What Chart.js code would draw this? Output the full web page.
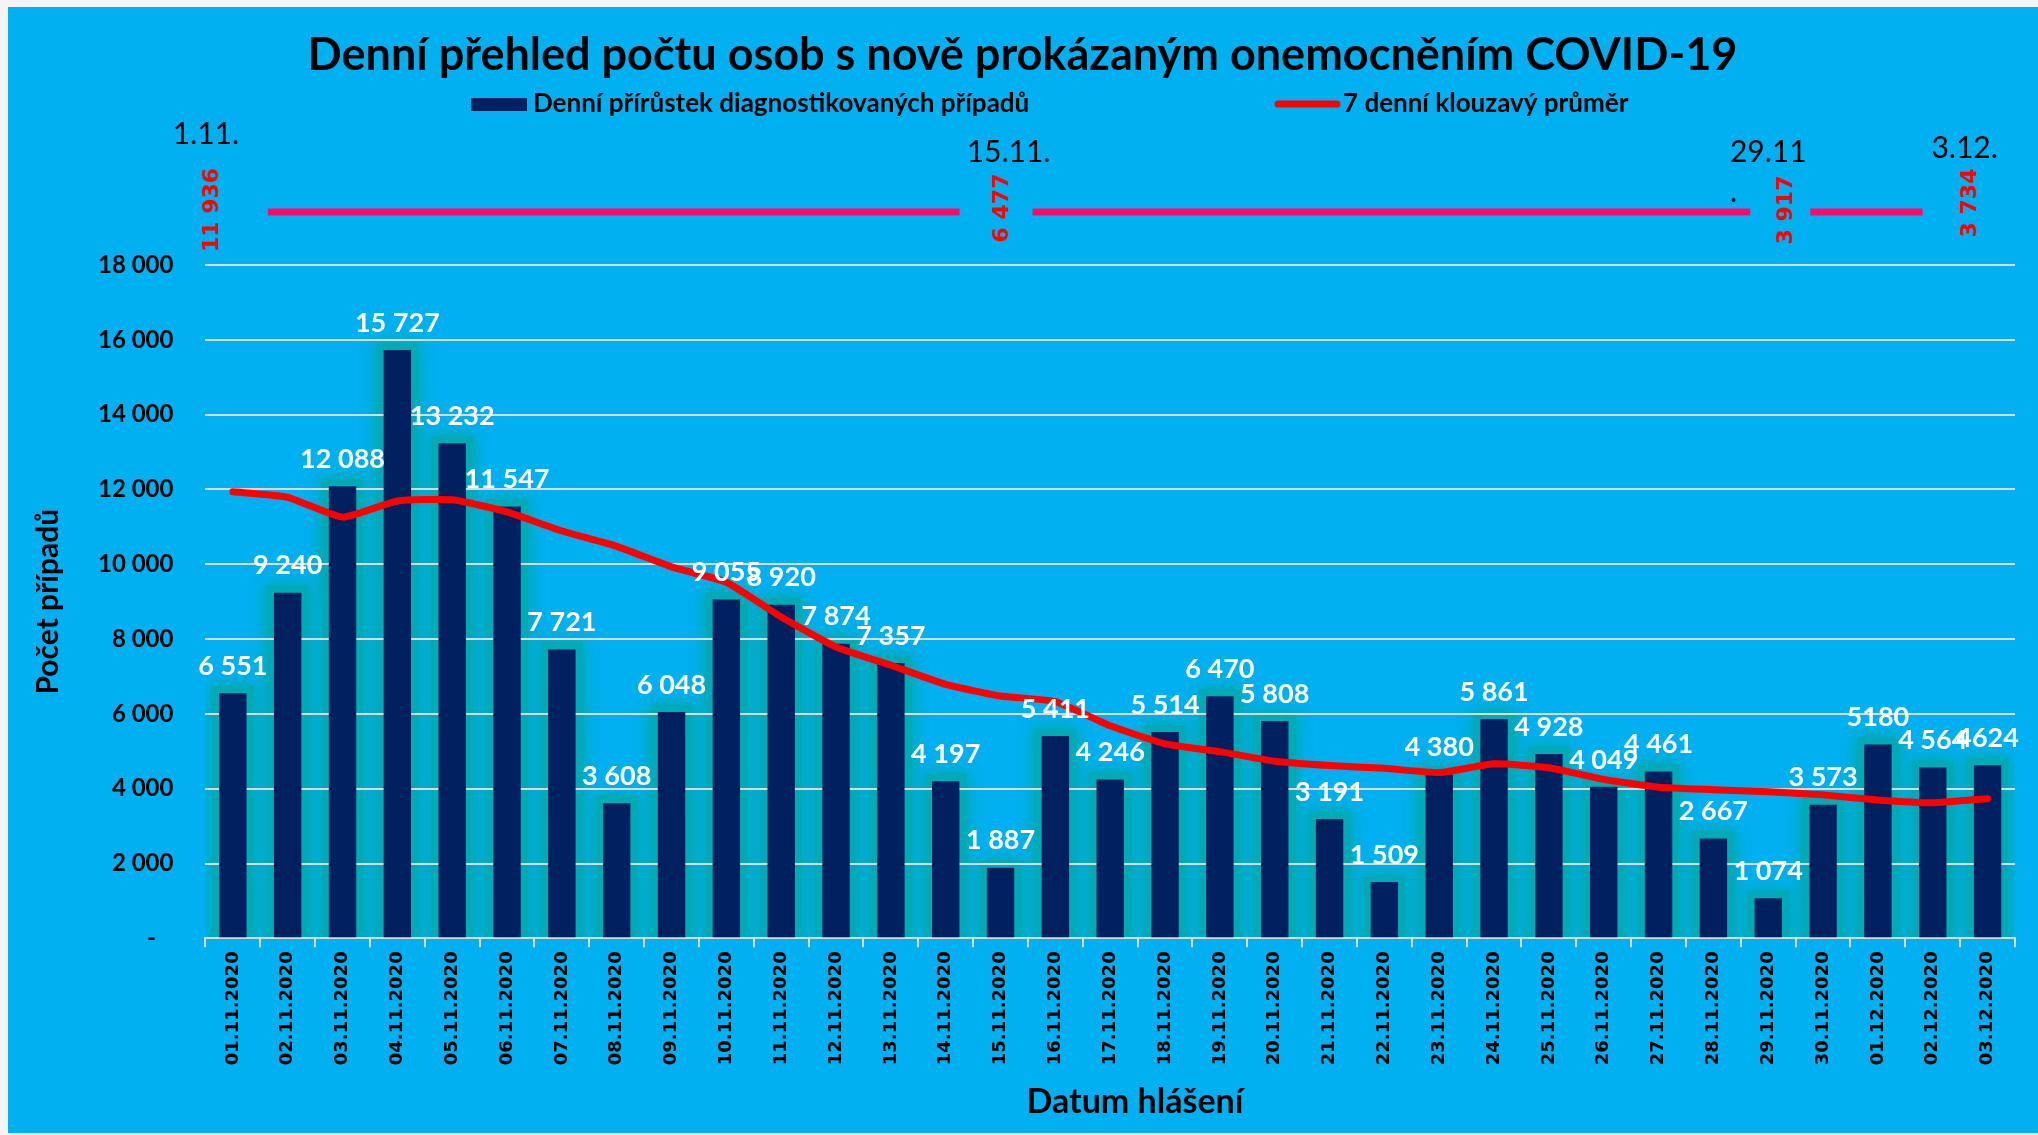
<!DOCTYPE html>
<html>
<head>
<meta charset="utf-8">
<script src="https://cdn.jsdelivr.net/npm/chart.js@4.4.1/dist/chart.umd.min.js"></script>
<style>
  html, body { margin: 0; padding: 0; background: #f4f4f4; }
  #wrap { position: absolute; left: 8px; top: 7px; width: 2030px; height: 1126px; background: #00b0f0; }
</style>
</head>
<body>
<div id="wrap"><canvas id="chart"></canvas></div>
<script>
const dates = [
  '01.11.2020', '02.11.2020', '03.11.2020', '04.11.2020', '05.11.2020', '06.11.2020', '07.11.2020',
  '08.11.2020', '09.11.2020', '10.11.2020', '11.11.2020', '12.11.2020', '13.11.2020', '14.11.2020',
  '15.11.2020', '16.11.2020', '17.11.2020', '18.11.2020', '19.11.2020', '20.11.2020', '21.11.2020',
  '22.11.2020', '23.11.2020', '24.11.2020', '25.11.2020', '26.11.2020', '27.11.2020', '28.11.2020',
  '29.11.2020', '30.11.2020', '01.12.2020', '02.12.2020', '03.12.2020'
];
const dailyCases = [
  6551, 9240, 12088, 15727, 13232, 11547, 7721, 3608, 6048, 9055, 8920, 7874, 7357, 4197, 1887, 5411, 4246,
  5514, 6470, 5808, 3191, 1509, 4380, 5861, 4928, 4049, 4461, 2667, 1074, 3573, 5180, 4564, 4624
];
const movingAvg = [
  11936, 11790, 11260, 11690, 11725, 11400, 10890, 10480, 9930, 9520, 8590, 7790, 7300, 6790, 6477, 6330, 5680,
  5200, 4990, 4735, 4620, 4545, 4430, 4665, 4560, 4250, 4040, 3975, 3917, 3835, 3700, 3625, 3734
];
// labels Excel printed without thousands separator
const plainLabels = [30, 32];
const markIndex = [0, 14, 28, 32];
const markDays = ['1.11.', '15.11.', '29.11\n.', '3.12.'];

const fmt = v => String(v).replace(/\B(?=(\d{3})+(?!\d))/g, ' ');
const barLabelText = dailyCases.map((v, i) => plainLabels.includes(i) ? String(v) : fmt(v));

const NAVY = '#002060';
const RED = '#ff0000';
const TEAL = '#00aab6';

// teal glow round the bars, painted before the grid so the grid stays on top
const glowPlugin = {
  id: 'glow',
  beforeDraw(chart) {
    const ctx = chart.ctx;
    const a = chart.chartArea;
    const meta = chart.getDatasetMeta(0);
    ctx.save();
    ctx.beginPath();
    ctx.rect(a.left, a.top, a.right - a.left, a.bottom - a.top);
    ctx.clip();
    ctx.fillStyle = TEAL;
    ctx.shadowColor = TEAL;
    ctx.shadowBlur = 16;
    for (let k = 0; k < 2; k++) {
      meta.data.forEach(bar => {
        const { x, y, base, width } = bar.getProps(['x', 'y', 'base', 'width'], true);
        ctx.fillRect(x - width / 2 - 7, y - 7, width + 14, base - y + 14);
      });
    }
    ctx.restore();
  }
};

const barLabelPlugin = {
  id: 'barLabels',
  afterDatasetsDraw(chart) {
    const ctx = chart.ctx;
    const meta = chart.getDatasetMeta(0);
    ctx.save();
    ctx.font = 'bold 27px Lato';
    ctx.fillStyle = '#ffffff';
    ctx.textAlign = 'center';
    ctx.textBaseline = 'middle';
    meta.data.forEach((bar, i) => {
      ctx.fillText(barLabelText[i], bar.x, bar.y - 27);
    });
    ctx.restore();
  }
};

// legend drawn by hand so the two items can sit far apart
const legendPlugin = {
  id: 'wideLegend',
  afterDraw(chart) {
    const ctx = chart.ctx;
    const ds = chart.data.datasets;
    const y = 97;
    ctx.save();
    ctx.font = 'bold 26px Lato';
    ctx.textBaseline = 'middle';
    ctx.fillStyle = ds[0].backgroundColor;
    ctx.fillRect(463, y - 6, 56, 13);
    ctx.fillStyle = '#000';
    ctx.fillText(ds[0].label, 525, y);
    ctx.strokeStyle = ds[1].borderColor;
    ctx.lineWidth = 7;
    ctx.lineCap = 'round';
    ctx.beginPath();
    ctx.moveTo(1270, y);
    ctx.lineTo(1329, y);
    ctx.stroke();
    ctx.fillText(ds[1].label, 1335, y);
    ctx.restore();
  }
};

// dates + moving average values above the plot
const markPlugin = {
  id: 'marks',
  afterDraw(chart) {
    const ctx = chart.ctx;
    const xs = chart.scales.x;
    const top = chart.chartArea.top;
    const dateDx = [-27, 8, 0, -23];
    const dateDy = [-131, -113, -113, -117];
    const valDx = [-21, 2, 18, -17];
    const valDy = [-55, -57, -55, -62];
    const segs = [[0, 35, 1, -41], [1, 32, 2, -18], [2, 42, 3, -65]];
    const px = markIndex.map(i => xs.getPixelForValue(i));
    ctx.save();
    ctx.strokeStyle = '#ff0a6c';
    ctx.lineWidth = 7;
    segs.forEach(([a, da, b, db]) => {
      ctx.beginPath();
      ctx.moveTo(px[a] + da, top - 53);
      ctx.lineTo(px[b] + db, top - 53);
      ctx.stroke();
    });
    ctx.font = '30px Lato';
    ctx.fillStyle = '#000';
    ctx.textBaseline = 'middle';
    markDays.forEach((txt, k) => {
      const lines = txt.split('\n');
      const w = ctx.measureText(lines[0]).width;
      const left = px[k] + dateDx[k] - w / 2;
      ctx.textAlign = 'left';
      lines.forEach((ln, j) => ctx.fillText(ln, left, top + dateDy[k] + j * 40));
    });
    ctx.font = 'bold 22px "DejaVu Sans"';
    ctx.fillStyle = RED;
    ctx.textAlign = 'center';
    markIndex.forEach((idx, k) => {
      ctx.save();
      ctx.translate(px[k] + valDx[k], top + valDy[k]);
      ctx.rotate(-Math.PI / 2);
      ctx.fillText(fmt(movingAvg[idx]), 0, 0);
      ctx.restore();
    });
    ctx.restore();
  }
};

new Chart(document.getElementById('chart'), {
  type: 'bar',
  data: {
    labels: dates,
    datasets: [
      {
        type: 'bar',
        label: 'Denní přírůstek diagnostikovaných případů',
        data: dailyCases,
        backgroundColor: NAVY,
        barPercentage: 0.5,
        categoryPercentage: 1,
        order: 1
      },
      {
        type: 'line',
        label: '7 denní klouzavý průměr',
        data: movingAvg,
        borderColor: RED,
        backgroundColor: RED,
        borderWidth: 7,
        pointRadius: 0,
        tension: 0.15,
        borderCapStyle: 'round',
        order: 0
      }
    ]
  },
  options: {
    responsive: true,
    maintainAspectRatio: false,
    animation: false,
    events: [],
    layout: { padding: { left: 22, right: 23, top: 0, bottom: 0 } },
    plugins: {
      legend: { display: false },
      tooltip: { enabled: false },
      title: {
        display: true,
        text: 'Denní přehled počtu osob s nově prokázaným onemocněním COVID-19',
        color: '#000',
        font: { family: 'Lato', size: 45, weight: 'bold' },
        padding: { top: 21, bottom: 183 }
      }
    },
    scales: {
      x: {
        grid: {
          display: true,
          drawOnChartArea: false,
          drawTicks: true,
          tickLength: 9,
          color: '#d9d9d9',
          lineWidth: 2,
          offset: true
        },
        border: { display: true, color: '#d9d9d9', width: 2 },
        ticks: {
          autoSkip: false,
          maxRotation: 90,
          minRotation: 90,
          padding: 4,
          color: '#000',
          font: { family: 'DejaVu Sans', size: 18, weight: 'bold' }
        },
        title: {
          display: true,
          text: '      Datum hlášení',
          color: '#000',
          font: { family: 'Lato', size: 34, weight: 'bold' },
          padding: { top: 12, bottom: 11 }
        }
      },
      y: {
        min: 0,
        max: 18000,
        grid: { color: '#d9d9d9', lineWidth: 2, drawTicks: false },
        border: { display: false },
        ticks: {
          stepSize: 2000,
          padding: 32,
          color: '#000',
          font: { family: 'Lato', size: 24, weight: 'bold' },
          callback: v => v === 0 ? '-   ' : fmt(v)
        },
        title: {
          display: true,
          text: 'Počet případů',
          color: '#000',
          font: { family: 'Lato', size: 30, weight: 'bold' },
          padding: { top: 0, bottom: 0 }
        }
      }
    }
  },
  plugins: [glowPlugin, barLabelPlugin, legendPlugin, markPlugin]
});
</script>
</body>
</html>
